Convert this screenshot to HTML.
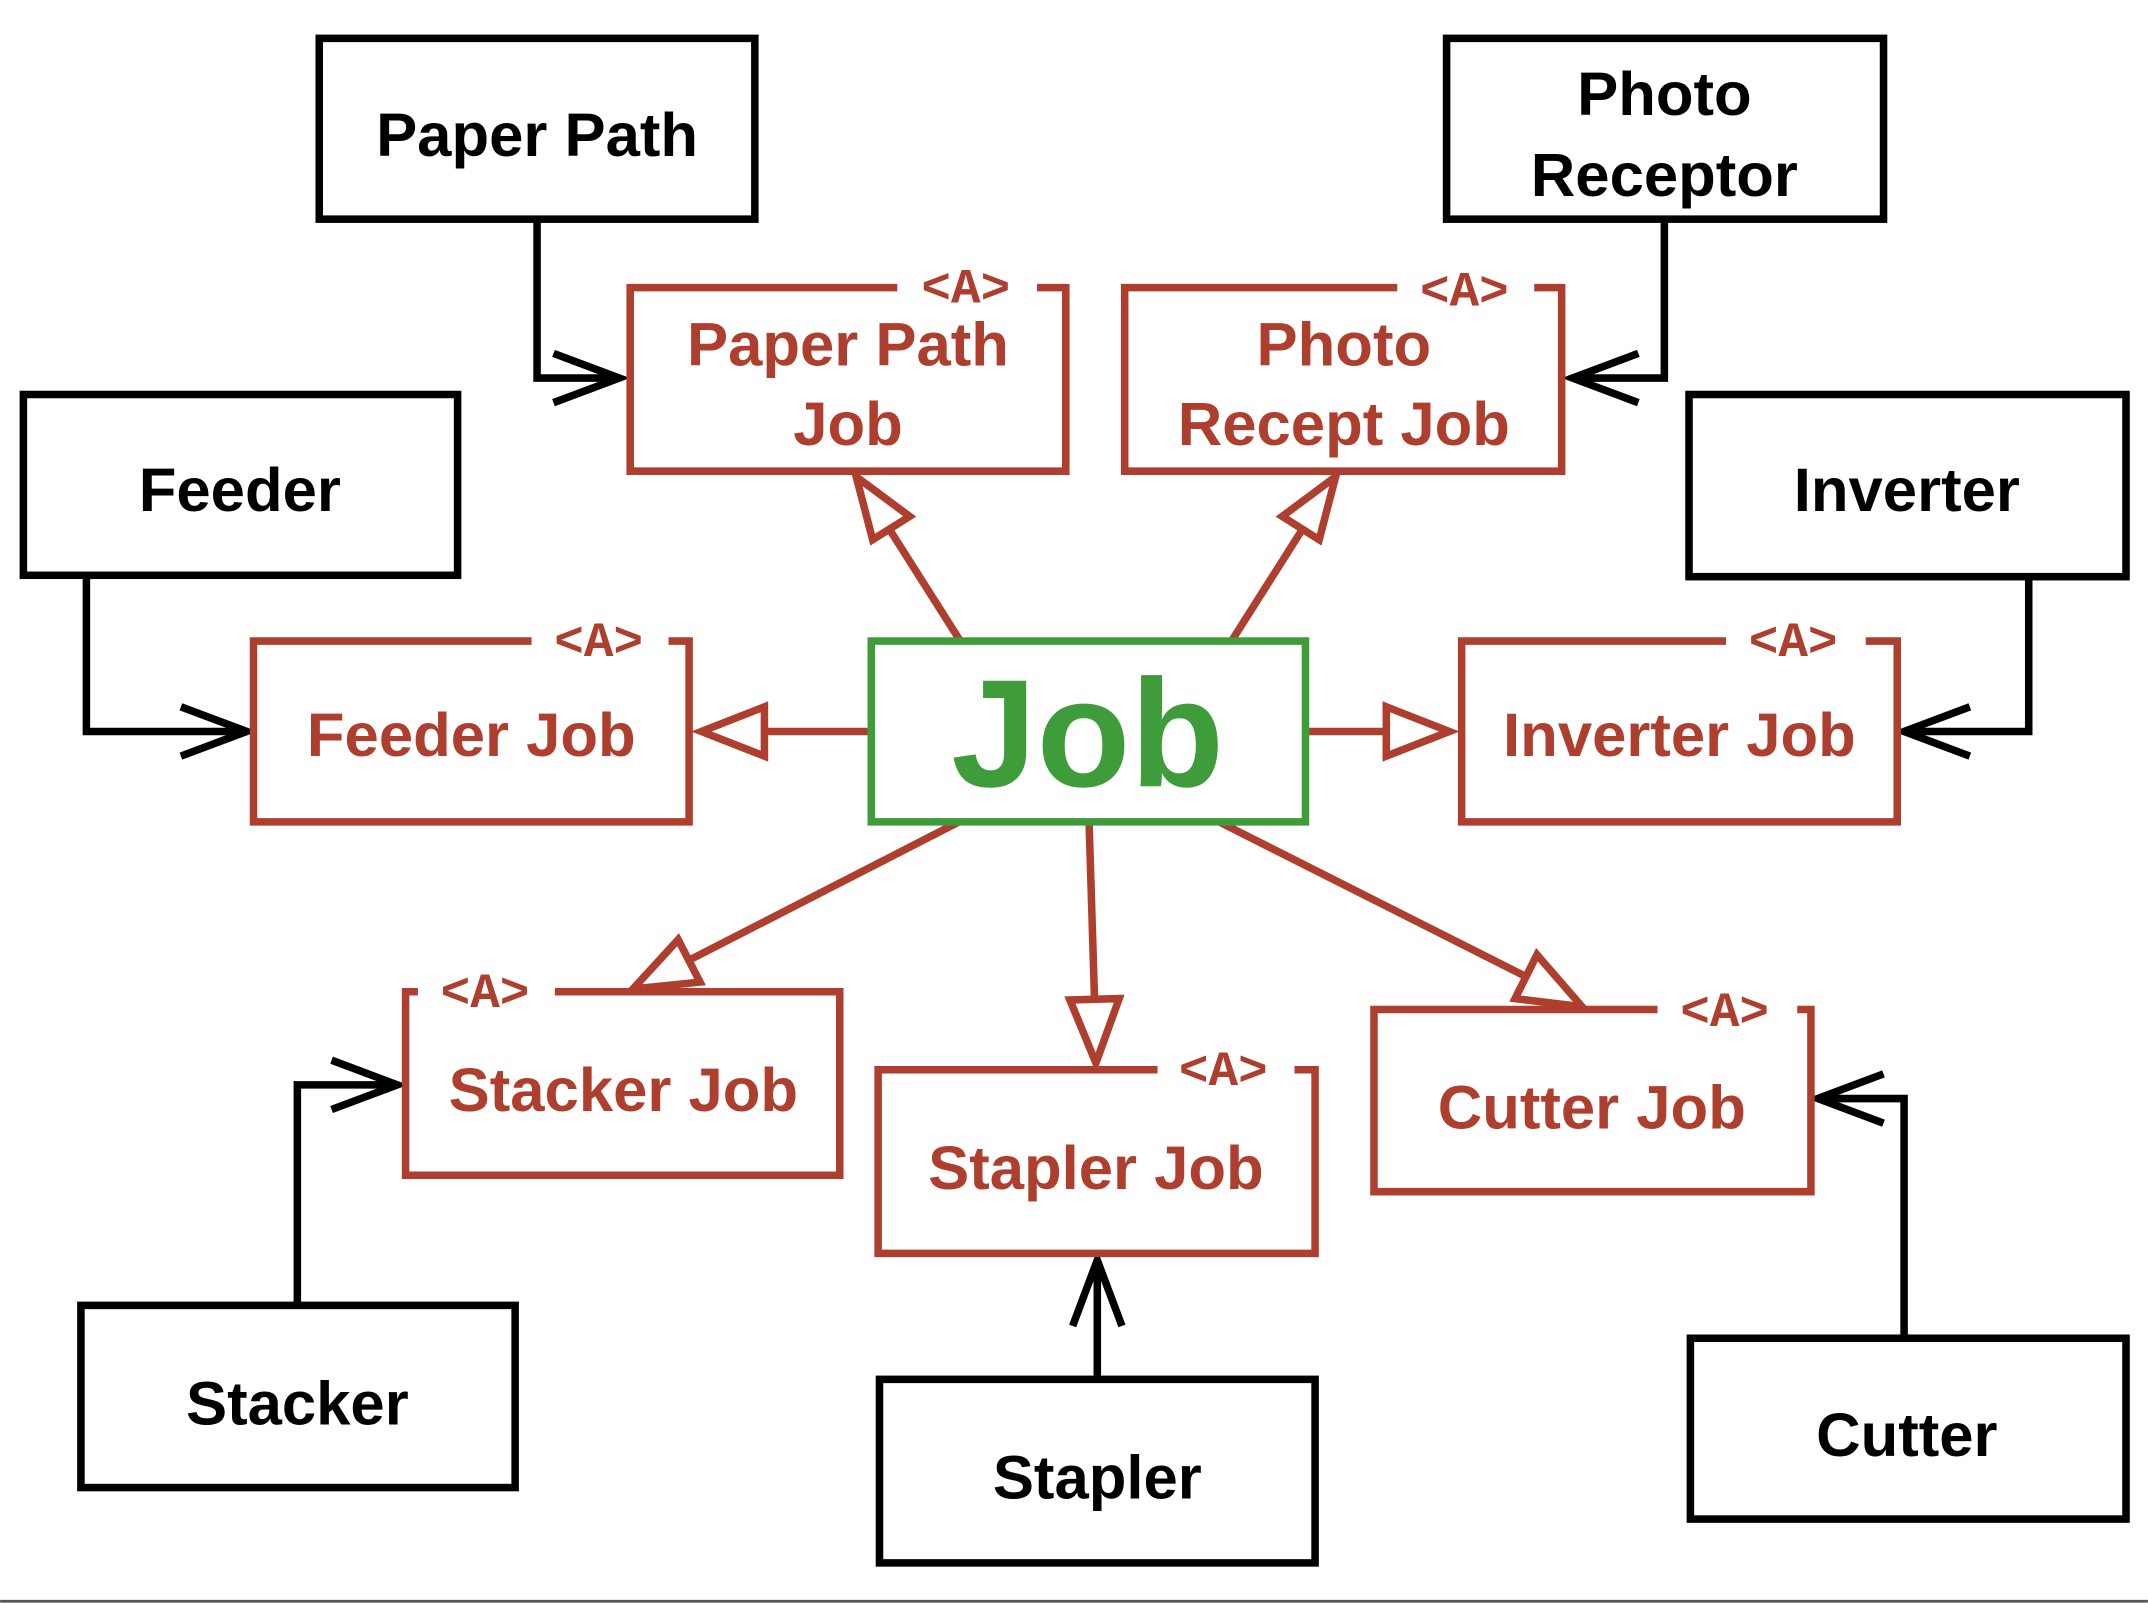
<!DOCTYPE html>
<html><head><style>html,body{margin:0;padding:0;background:#fff}svg{display:block}</style></head><body>
<svg width="2148" height="1604" viewBox="0 0 1568 1171" xmlns="http://www.w3.org/2000/svg">
<rect width="1568" height="1171" fill="#fff"/>
<line x1="0" y1="1169" x2="1568" y2="1169" stroke="#555" stroke-width="2"/>
<g fill="none" stroke="#000" stroke-width="5.5">
<rect x="233" y="28" width="318" height="132"/>
<rect x="1056" y="28" width="319" height="132"/>
<rect x="17" y="288" width="317" height="132"/>
<rect x="1233" y="288" width="319" height="133"/>
<rect x="59" y="953" width="317" height="133"/>
<rect x="642" y="1007" width="318" height="134"/>
<rect x="1234" y="977" width="318" height="132"/>
<polyline points="392,160 392,276 452,276"/><polyline points="404,258 452,276 404,294"/>
<polyline points="1215,160 1215,276 1148,276"/><polyline points="1196,258 1148,276 1196,294"/>
<polyline points="63,420 63,534 180,534"/><polyline points="132,516 180,534 132,552"/>
<polyline points="1481,421 1481,534 1390,534"/><polyline points="1438,516 1390,534 1438,552"/>
<polyline points="217,953 217,792 290,792"/><polyline points="242,774 290,792 242,810"/>
<polyline points="801,1007 801,920"/><polyline points="783,968 801,920 819,968"/>
<polyline points="1390,977 1390,802 1327,802"/><polyline points="1375,784 1327,802 1375,820"/>
</g>
<g fill="none" stroke="#ae3f2f" stroke-width="5.5">
<polyline points="655,210 460,210 460,344 778,344 778,210 757,210"/>
<polyline points="1020,210 821,210 821,344 1140,344 1140,210 1120,210"/>
<polyline points="388,468 185,468 185,600 503,600 503,468 488,468"/>
<polyline points="1260,468 1067,468 1067,600 1385,600 1385,468 1362,468"/>
<polyline points="305,724 296,724 296,858 613,858 613,724 405,724"/>
<polyline points="845,781 641,781 641,915 960,915 960,781 945,781"/>
<polyline points="1210,737 1003,737 1003,870 1322,870 1322,737 1312,737"/>
<line x1="701" y1="468" x2="649" y2="386"/><polygon points="625,348 637,394 664,377"/>
<line x1="899" y1="468" x2="951" y2="386"/><polygon points="975,348 936,377 963,394"/>
<line x1="636" y1="534" x2="558" y2="534"/><polygon points="512,534 558,516 558,552"/>
<line x1="953" y1="534" x2="1012" y2="534"/><polygon points="1058,534 1012,516 1012,552"/>
<line x1="700" y1="600" x2="503" y2="701"/><polygon points="462,722 495,686 511,717"/>
<line x1="795" y1="600" x2="799" y2="730"/><polygon points="800,776 781,730 817,729"/>
<line x1="890" y1="600" x2="1114" y2="713"/><polygon points="1155,735 1106,729 1122,697"/>
</g>
<rect x="636" y="468" width="317" height="132" fill="none" stroke="#3f9c3a" stroke-width="5.5"/>
<g font-family="'Liberation Sans',sans-serif" font-weight="bold" font-size="45" text-anchor="middle" fill="#000">
<text x="392" y="114">Paper Path</text>
<text x="1215" y="84">Photo</text>
<text x="1215" y="143">Receptor</text>
<text x="175" y="373">Feeder</text>
<text x="1392" y="373">Inverter</text>
<text x="217" y="1040">Stacker</text>
<text x="801" y="1094">Stapler</text>
<text x="1392" y="1063">Cutter</text>
</g>
<g font-family="'Liberation Sans',sans-serif" font-weight="bold" font-size="45" text-anchor="middle" fill="#ae3f2f">
<text x="619" y="267">Paper Path</text>
<text x="619" y="325">Job</text>
<text x="981" y="267">Photo</text>
<text x="981" y="325">Recept Job</text>
<text x="344" y="552">Feeder Job</text>
<text x="1226" y="552">Inverter Job</text>
<text x="455" y="811">Stacker Job</text>
<text x="800" y="868">Stapler Job</text>
<text x="1162" y="824">Cutter Job</text>
</g>
<g font-family="Liberation Mono, Liberation Serif, monospace" font-weight="bold" font-size="36" text-anchor="middle" fill="#ae3f2f">
<text x="705" y="221">&lt;A&gt;</text>
<text x="1069" y="223">&lt;A&gt;</text>
<text x="437" y="479">&lt;A&gt;</text>
<text x="1309" y="479">&lt;A&gt;</text>
<text x="354" y="735">&lt;A&gt;</text>
<text x="893" y="792">&lt;A&gt;</text>
<text x="1259" y="749">&lt;A&gt;</text>
</g>
<text x="794" y="574" font-family="'Liberation Sans',sans-serif" font-weight="bold" font-size="112" text-anchor="middle" fill="#3f9c3a">Job</text>
</svg>
</body></html>
